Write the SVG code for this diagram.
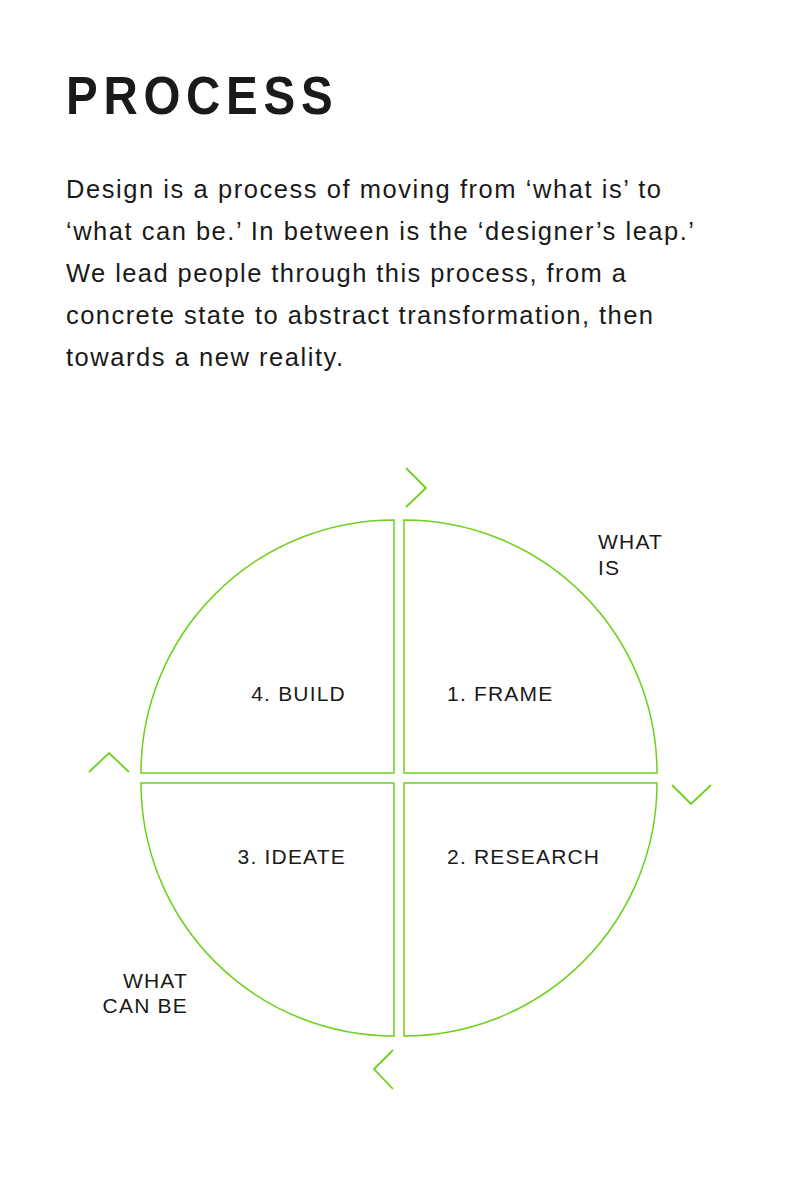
<svg xmlns="http://www.w3.org/2000/svg" width="800" height="1200" viewBox="0 0 800 1200">
  <style>
    .title { font-family: "Liberation Sans", Arial, sans-serif; font-weight: bold; font-size: 54px; fill: #1a1a1a; }
    .body { font-family: "Liberation Sans", Arial, sans-serif; font-size: 25.5px; fill: #1a1a1a; }
    .label { font-family: "Liberation Sans", Arial, sans-serif; font-size: 21px; letter-spacing: 1.2px; fill: #1a1a1a; }
    .quad { fill: none; stroke: #6dd11c; stroke-width: 1.5; }
    .chev { fill: none; stroke: #6dd11c; stroke-width: 1.8; }
  </style>
  <rect width="800" height="1200" fill="#ffffff"/>

  <!-- heading: narrowed bold face with wide tracking -->
  <text class="title" transform="translate(66,114) scale(0.88,1)" x="0" y="0" textLength="303" lengthAdjust="spacing">PROCESS</text>

  <g id="intro">
    <text class="body" x="66" y="198" textLength="595" lengthAdjust="spacing">Design is a process of moving from ‘what is’ to</text>
    <text class="body" x="66" y="240" textLength="628" lengthAdjust="spacing">‘what can be.’ In between is the ‘designer’s leap.’</text>
    <text class="body" x="66" y="282" textLength="560" lengthAdjust="spacing">We lead people through this process, from a</text>
    <text class="body" x="66" y="324" textLength="587" lengthAdjust="spacing">concrete state to abstract transformation, then</text>
    <text class="body" x="66" y="366" textLength="277" lengthAdjust="spacing">towards a new reality.</text>
  </g>

  <!-- four quarter-circle segments around a common centre -->
  <g id="frame">
    <path class="quad" d="M404,773 V520 A253,253 0 0 1 657,773 Z"/>
    <text class="label" x="447" y="701">1. FRAME</text>
  </g>
  <g id="research">
    <path class="quad" d="M404,783 H657 A253,253 0 0 1 404,1036 Z"/>
    <text class="label" x="447" y="864">2. RESEARCH</text>
  </g>
  <g id="ideate">
    <path class="quad" d="M394,783 V1036 A253,253 0 0 1 141,783 Z"/>
    <text class="label" x="346" y="864" text-anchor="end">3. IDEATE</text>
  </g>
  <g id="build">
    <path class="quad" d="M394,773 H141 A253,253 0 0 1 394,520 Z"/>
    <text class="label" x="346" y="701" text-anchor="end">4. BUILD</text>
  </g>

  <g id="what-is">
    <text class="label" x="598" y="549">WHAT</text>
    <text class="label" x="598" y="575">IS</text>
  </g>
  <g id="what-can-be">
    <text class="label" x="188" y="988" text-anchor="end">WHAT</text>
    <text class="label" x="188" y="1013" text-anchor="end">CAN BE</text>
  </g>

  <!-- direction chevrons, clockwise -->
  <g id="connectors">
    <polyline class="chev" points="406,468 426,488 406,507"/>
    <polyline class="chev" points="672,785 691,804 711,785"/>
    <polyline class="chev" points="393,1050 374,1069 393,1089"/>
    <polyline class="chev" points="89,772 109,753 129,772"/>
  </g>
</svg>
